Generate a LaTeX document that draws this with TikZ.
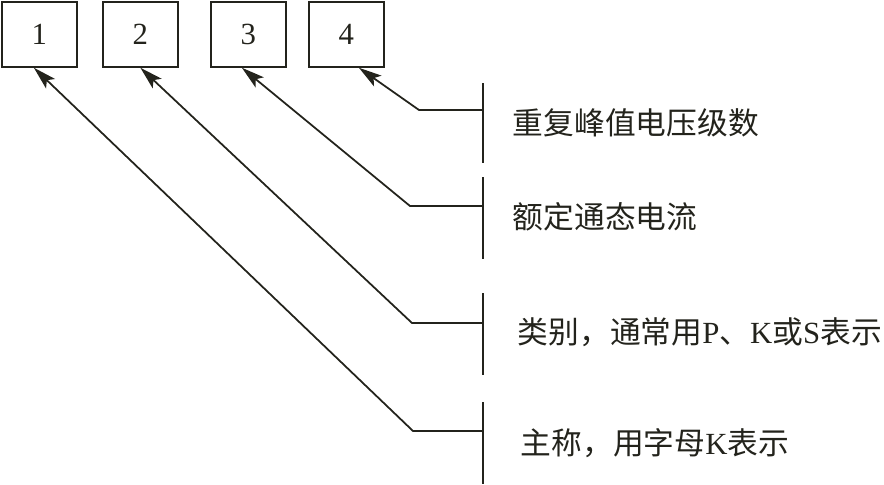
\documentclass[tikz,border=0pt]{standalone}
\usepackage{fontspec}
\setmainfont{Liberation Serif}
\newfontfamily\cjk{Noto Sans CJK SC}
\usepackage{xcolor}
\usetikzlibrary{arrows.meta,positioning,calc}
\definecolor{ink}{RGB}{35,35,28}

\begin{document}
\begin{tikzpicture}[
  x=0.02cm, y=-0.02cm,
  font=\fontsize{17.5}{20}\selectfont,
  line width=1pt, draw=ink, text=ink,
  numbox/.style={draw, anchor=north west, minimum width=1.5cm, minimum height=1.3cm, inner sep=0pt},
  lbl/.style={anchor=west, inner sep=0pt},
  >={Stealth[length=4.6mm, width=2.6mm, inset=1mm]}
]
  \useasboundingbox (0,0) rectangle (884,484);

  \node[numbox] (b1) at (1,1)   {1};
  \node[numbox] (b2) at (102,1) {2};
  \node[numbox] (b3) at (210,1) {3};
  \node[numbox] (b4) at (308,1) {4};

  \node[lbl] (t4) at (512,123) {\cjk 重复峰值电压级数};
  \node[lbl] (t3) at (512,217) {\cjk 额定通态电流};
  \node[lbl] (t2) at (517,332) {{\cjk 类别，通常用}P{\cjk 、}K{\cjk 或}S{\cjk 表示}};
  \node[lbl] (t1) at (520,443) {{\cjk 主称，用字母}K{\cjk 表示}};

  % brackets in front of the labels
  \coordinate (v4a) at (483,83);  \coordinate (v4b) at (483,163); \coordinate (j4) at (483,110); \coordinate (k4) at (419,110);
  \coordinate (v3a) at (483,177); \coordinate (v3b) at (483,259); \coordinate (j3) at (483,206); \coordinate (k3) at (410,206);
  \coordinate (v2a) at (483,293); \coordinate (v2b) at (483,375); \coordinate (j2) at (483,323); \coordinate (k2) at (412,323);
  \coordinate (v1a) at (483,402); \coordinate (v1b) at (483,484); \coordinate (j1) at (483,431); \coordinate (k1) at (413,431);

  \draw (v4a) -- (v4b);
  \draw (v3a) -- (v3b);
  \draw (v2a) -- (v2b);
  \draw (v1a) -- (v1b);

  \draw[->] (j4) -- (k4) -- ([xshift=0.25cm]b4.south);
  \draw[->] (j3) -- (k3) -- ([xshift=-0.13cm]b3.south);
  \draw[->] (j2) -- (k2) -- (b2.south);
  \draw[->] (j1) -- (k1) -- ([xshift=-0.11cm]b1.south);
\end{tikzpicture}
\end{document}
